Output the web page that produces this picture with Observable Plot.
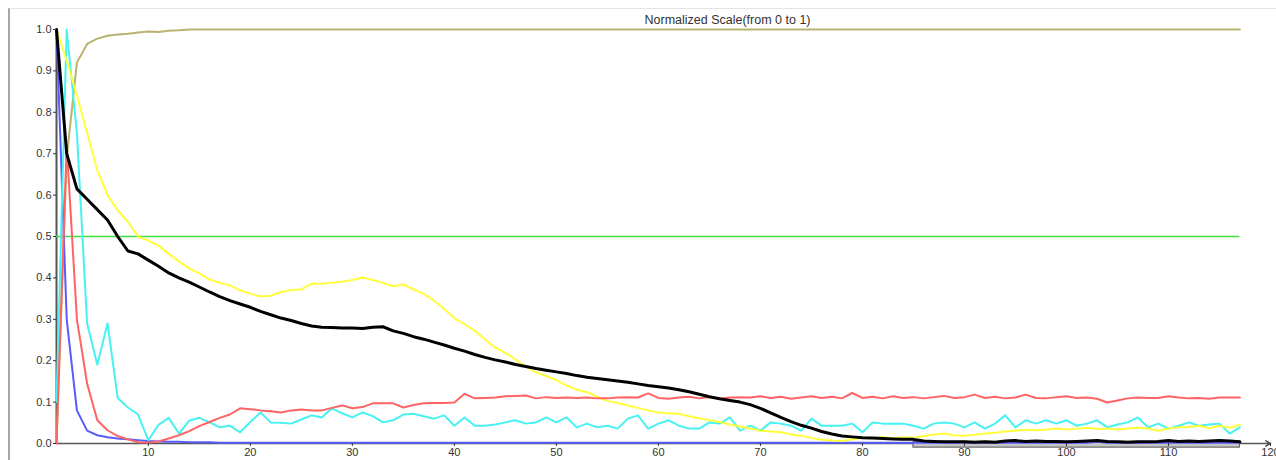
<!DOCTYPE html>
<html>
<head>
<meta charset="utf-8">
<script src="https://cdn.jsdelivr.net/npm/d3@7"></script>
<script src="https://cdn.jsdelivr.net/npm/@observablehq/plot@0.6"></script>
<style>
  html, body { margin: 0; padding: 0; background: #fff; }
  #wrap { position: relative; width: 1276px; height: 460px; overflow: hidden; }
  #box { position: absolute; left: 8px; top: 8px; right: -4px; bottom: -4px;
         border-left: 2px solid #a6a6a6; border-top: 1px solid #e4e4e4; }
  #chart { position: absolute; left: 0; top: 0; }
</style>
</head>
<body>
<div id="wrap"><div id="box"></div><div id="chart"></div></div>
<script>
const title = "Normalized Scale(from 0 to 1)";
const xTicks = [10, 20, 30, 40, 50, 60, 70, 80, 90, 100, 110, 120];
const yTicks = [0, 0.1, 0.2, 0.3, 0.4, 0.5, 0.6, 0.7, 0.8, 0.9, 1.0];
const xDomain = [1, 120];
const referenceLevel = 0.5;
const selection = [{start: 85, end: 117, low: -0.01, high: 0.004}];

const khaki = [
  0.0,0.69,0.92,0.965,0.978,0.985,0.988,0.990,0.993,0.995,
  0.994,0.997,0.998,1,1,1,1,1,1,1,
  1,1,1,1,1,1,1,1,1,1,
  1,1,1,1,1,1,1,1,1,1,
  1,1,1,1,1,1,1,1,1,1,
  1,1,1,1,1,1,1,1,1,1,
  1,1,1,1,1,1,1,1,1,1,
  1,1,1,1,1,1,1,1,1,1,
  1,1,1,1,1,1,1,1,1,1,
  1,1,1,1,1,1,1,1,1,1,
  1,1,1,1,1,1,1,1,1,1,
  1,1,1,1,1,1,1
];
const blue = [
  1.0,0.30,0.08,0.031,0.020,0.015,0.012,0.010,0.008,0.006,
  0.005,0.004,0.004,0.003,0.003,0.003,0.002,0.002,0.002,0.002,
  0.002,0.002,0.002,0.002,0.002,0.002,0.002,0.002,0.002,0.002,
  0.002,0.002,0.002,0.002,0.002,0.002,0.002,0.002,0.002,0.002,
  0.002,0.002,0.002,0.002,0.002,0.002,0.002,0.002,0.002,0.002,
  0.002,0.002,0.002,0.002,0.002,0.002,0.002,0.002,0.002,0.002,
  0.002,0.002,0.002,0.002,0.002,0.002,0.002,0.002,0.002,0.002,
  0.002,0.002,0.002,0.002,0.002,0.002,0.002,0.002,0.002,0.002,
  0.002,0.002,0.002,0.002,0.002,0.002,0.002,0.002,0.002,0.002,
  0.002,0.002,0.002,0.002,0.002,0.002,0.002,0.002,0.002,0.002,
  0.002,0.002,0.004,0.002,0.002,0.002,0.002,0.002,0.002,0.002,
  0.002,0.002,0.002,0.002,0.002,0.002,0.002
];
const cyan = [
  0.10,1.0,0.75,0.29,0.19,0.29,0.11,0.087,0.07,0.008,
  0.045,0.062,0.024,0.055,0.062,0.051,0.039,0.043,0.027,0.052,
  0.075,0.051,0.050,0.048,0.058,0.068,0.063,0.085,0.073,0.063,
  0.075,0.066,0.051,0.056,0.070,0.072,0.066,0.060,0.068,0.043,
  0.063,0.043,0.043,0.046,0.051,0.056,0.048,0.051,0.063,0.051,
  0.063,0.039,0.048,0.039,0.043,0.036,0.060,0.068,0.036,0.048,
  0.056,0.043,0.036,0.036,0.051,0.048,0.063,0.031,0.043,0.031,
  0.051,0.048,0.043,0.031,0.060,0.043,0.043,0.043,0.048,0.027,
  0.051,0.048,0.048,0.048,0.043,0.036,0.048,0.051,0.048,0.039,
  0.051,0.036,0.048,0.068,0.039,0.056,0.048,0.056,0.048,0.056,
  0.043,0.048,0.056,0.039,0.046,0.051,0.063,0.039,0.048,0.036,
  0.043,0.051,0.043,0.046,0.048,0.024,0.039
];
const yellow = [
  1.0,0.925,0.84,0.75,0.66,0.60,0.563,0.535,0.50,0.49,
  0.478,0.458,0.44,0.423,0.411,0.396,0.388,0.382,0.37,0.362,
  0.355,0.357,0.366,0.371,0.372,0.386,0.386,0.388,0.391,0.395,
  0.401,0.395,0.388,0.380,0.384,0.372,0.362,0.345,0.325,0.303,
  0.288,0.272,0.252,0.232,0.219,0.203,0.186,0.172,0.163,0.153,
  0.140,0.130,0.124,0.113,0.103,0.098,0.092,0.086,0.080,0.075,
  0.073,0.072,0.066,0.061,0.057,0.052,0.046,0.041,0.036,0.031,
  0.029,0.027,0.022,0.019,0.013,0.009,0.007,0.006,0.010,0.014,
  0.012,0.016,0.012,0.015,0.014,0.018,0.022,0.024,0.020,0.019,
  0.021,0.024,0.026,0.029,0.031,0.033,0.032,0.034,0.036,0.034,
  0.036,0.038,0.035,0.036,0.034,0.036,0.038,0.036,0.031,0.036,
  0.039,0.040,0.043,0.037,0.043,0.038,0.045
];
const red = [
  0.0,0.72,0.30,0.145,0.056,0.032,0.018,0.010,0.003,0.002,
  0.005,0.012,0.020,0.030,0.042,0.052,0.062,0.070,0.085,0.083,
  0.080,0.078,0.075,0.080,0.082,0.080,0.080,0.086,0.092,0.085,
  0.088,0.097,0.097,0.097,0.087,0.093,0.097,0.098,0.098,0.099,
  0.120,0.109,0.110,0.111,0.114,0.115,0.116,0.109,0.112,0.110,
  0.111,0.110,0.111,0.109,0.109,0.111,0.112,0.111,0.121,0.110,
  0.108,0.111,0.113,0.109,0.112,0.108,0.111,0.112,0.111,0.114,
  0.110,0.113,0.108,0.111,0.114,0.110,0.113,0.109,0.122,0.110,
  0.113,0.109,0.114,0.110,0.112,0.109,0.112,0.115,0.110,0.112,
  0.118,0.110,0.113,0.109,0.111,0.118,0.110,0.109,0.112,0.114,
  0.110,0.111,0.108,0.099,0.104,0.109,0.111,0.110,0.110,0.114,
  0.111,0.109,0.110,0.108,0.111,0.111,0.111
];
const black = [
  1.0,0.70,0.615,0.59,0.565,0.54,0.50,0.465,0.458,0.443,
  0.428,0.412,0.400,0.390,0.378,0.366,0.355,0.345,0.337,0.329,
  0.319,0.311,0.303,0.297,0.290,0.284,0.281,0.280,0.279,0.279,
  0.278,0.281,0.282,0.272,0.266,0.258,0.252,0.245,0.238,0.230,
  0.223,0.215,0.208,0.202,0.197,0.191,0.186,0.181,0.177,0.173,
  0.169,0.164,0.160,0.157,0.154,0.151,0.148,0.144,0.140,0.137,
  0.134,0.130,0.125,0.119,0.113,0.108,0.104,0.100,0.094,0.085,
  0.074,0.063,0.053,0.044,0.037,0.029,0.023,0.018,0.016,0.014,
  0.013,0.012,0.011,0.010,0.010,0.006,0.005,0.004,0.004,0.004,
  0.003,0.004,0.003,0.006,0.007,0.005,0.006,0.005,0.005,0.004,
  0.005,0.006,0.007,0.005,0.004,0.003,0.004,0.004,0.005,0.007,
  0.005,0.006,0.005,0.006,0.007,0.006,0.004
];

const seriesList = [
  {name: "khaki", values: khaki, color: "#b8b36e", width: 2},
  {name: "blue", values: blue, color: "#5a5aff", width: 2},
  {name: "cyan", values: cyan, color: "#48f2f2", width: 2},
  {name: "yellow", values: yellow, color: "#ffff3c", width: 2},
  {name: "red", values: red, color: "#ff6464", width: 2},
  {name: "black", values: black, color: "#000000", width: 3}
];

const toRows = (s) => s.values.map((v, i) => ({x: i + 1, y: v, series: s.name}));
const lastX = black.length;

const lineMarks = seriesList.map(s =>
  Plot.line(toRows(s), {x: "x", y: "y", stroke: s.color, strokeWidth: s.width, strokeLinejoin: "round"})
);

const chart = Plot.plot({
  width: 1276,
  height: 460,
  marginTop: 29,
  marginBottom: 17,
  marginLeft: 56,
  marginRight: 6,
  x: {domain: xDomain, axis: null, label: null},
  y: {domain: [0, 1], axis: null, label: null},
  style: {background: "transparent", fontFamily: "'Liberation Sans', Arial, sans-serif", overflow: "visible"},
  marks: [
    Plot.arrow([{x1: xDomain[0], x2: xDomain[1], y: 0}], {x1: "x1", x2: "x2", y1: "y", y2: "y", stroke: "#555", strokeWidth: 1.6, headLength: 5}),
    Plot.ruleX([xDomain[0]], {y1: 0, y2: 1, stroke: "#555", strokeWidth: 2}),
    Plot.rect(selection, {x1: "start", x2: "end", y1: "low", y2: "high", fill: "#c6c6c6", stroke: "#555", strokeWidth: 1}),
    Plot.ruleY([referenceLevel], {x1: xDomain[0], x2: lastX, stroke: "#3fe03f", strokeWidth: 1.5}),
    ...lineMarks,
    Plot.axisX(xTicks, {anchor: "bottom", tickSize: 3, tickPadding: 2, fontSize: 11, color: "#333", label: null}),
    Plot.axisY(yTicks, {anchor: "left", tickSize: 3, tickPadding: 2, fontSize: 11, color: "#333", tickFormat: d3.format(".1f"), label: null}),
    Plot.text([title], {frameAnchor: "top", dy: -14, dx: 64, fontSize: 12.5, fill: "#333"})
  ]
});

document.getElementById("chart").appendChild(chart);
</script>
</body>
</html>
